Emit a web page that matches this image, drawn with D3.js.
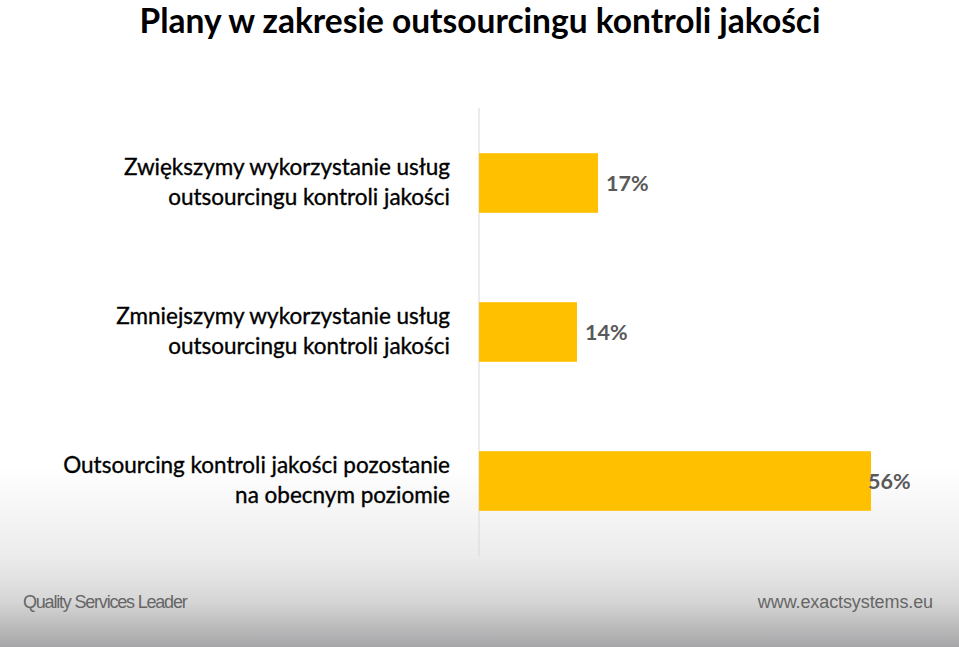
<!DOCTYPE html>
<html><head><meta charset="utf-8">
<script src="https://cdn.jsdelivr.net/npm/d3@7"></script>
<style>body{margin:0;overflow:hidden}svg{display:block}</style>
</head><body>
<script>
const title = "Plany w zakresie outsourcingu kontroli jakości";
const categories = [
  ["Zwiększymy wykorzystanie usług", "outsourcingu kontroli jakości"],
  ["Zmniejszymy wykorzystanie usług", "outsourcingu kontroli jakości"],
  ["Outsourcing kontroli jakości pozostanie", "na obecnym poziomie"]
];
const values = [17, 14, 56];
const valueLabels = ["17%", "14%", "56%"];
const footerLeft = "Quality Services Leader";
const footerRight = "www.exactsystems.eu";

const W = 959, H = 647;
const svg = d3.select("body").append("svg").attr("width", W).attr("height", H);
const defs = svg.append("defs");
const g = defs.append("linearGradient").attr("id","bg").attr("x1",0).attr("y1",0).attr("x2",0).attr("y2",1);
[[0,"#ffffff"],[0.72,"#ffffff"],[0.86,"#ececec"],[0.93,"#d6d6d6"],[1,"#a6a6a8"]].forEach(([o,c])=>
  g.append("stop").attr("offset",o).attr("stop-color",c));
svg.append("rect").attr("width",W).attr("height",H).attr("fill","url(#bg)");

svg.append("text").attr("x",480).attr("y",33).attr("text-anchor","middle")
  .attr("font-family","Lato").attr("font-weight","bold").attr("font-size",33.5).attr("fill","#000").text(title);

const x0 = 479;
const x = d3.scaleLinear().domain([0, 56]).range([x0, 871]);
const y = d3.scaleBand().domain(d3.range(categories.length)).range([108.5, 555.5]).padding(0.6).paddingOuter(0.3);

svg.append("line").attr("x1",x0).attr("x2",x0).attr("y1",108).attr("y2",556).attr("stroke","#d9d9d9").attr("stroke-width",1);

svg.selectAll("rect.bar").data(values).join("rect").attr("class","bar")
  .attr("x", x(0)).attr("y",(d,i)=>y(i)).attr("width",d=>x(d)-x(0)).attr("height",y.bandwidth()).attr("fill","#ffc000");

svg.selectAll("text.val").data(values).join("text").attr("class","val")
  .attr("x",d=>x(d)-3 > 860 ? x(d)-3 : x(d)+8).attr("y",(d,i)=>y(i)+y.bandwidth()/2+8)
  .attr("font-family","Lato").attr("font-weight","bold").attr("font-size",21.5).attr("fill","#595959")
  .text((d,i)=>valueLabels[i]);

categories.forEach((lines,i)=>{
  const cy = y(i)+y.bandwidth()/2;
  const t = svg.append("text").attr("text-anchor","end").attr("font-family","Lato").attr("font-size",22.5)
    .attr("fill","#000").attr("stroke","#000").attr("stroke-width",0.35);
  lines.forEach((l,j)=>{
    t.append("tspan").attr("x",450).attr("y",cy - 15 + 30*j + 7).text(l);
  });
});

svg.append("text").attr("x",23).attr("y",608).attr("font-family","Liberation Sans").attr("font-size",18)
  .attr("fill","#666").attr("letter-spacing",-1.2).text(footerLeft);
svg.append("text").attr("x",933).attr("y",608).attr("text-anchor","end").attr("font-family","Liberation Sans").attr("font-size",18)
  .attr("fill","#666").attr("letter-spacing",-0.1).text(footerRight);
</script>
</body></html>
